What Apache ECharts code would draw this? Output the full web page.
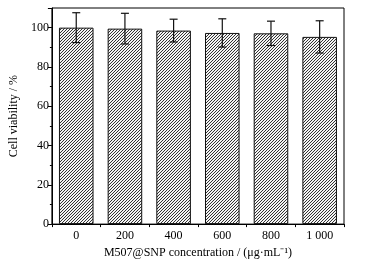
<!DOCTYPE html>
<html><head><meta charset="utf-8">
<script src="https://cdn.jsdelivr.net/npm/echarts@6/dist/echarts.min.js"></script>
<style>html,body{margin:0;padding:0;background:#fff}#c{width:368px;height:264px}</style>
</head><body><div id="c"></div>
<script>
var categories = ['0', '200', '400', '600', '800', '1 000'];
var viability = [100.0, 99.5, 98.5, 97.3, 97.1, 95.3];
var errors = [7.6, 7.8, 5.8, 7.2, 6.2, 8.2];
var yTicks = [0, 20, 40, 60, 80, 100];

function makePattern() {
  var n = 3;
  var c = document.createElement('canvas');
  c.width = n; c.height = n;
  var g = c.getContext('2d');
  g.fillStyle = '#f4f4f4'; g.fillRect(0, 0, n, n);
  g.strokeStyle = '#333'; g.lineWidth = 1;
  g.beginPath();
  g.moveTo(-1, n + 1); g.lineTo(n + 1, -1);
  g.moveTo(-1, 1); g.lineTo(1, -1);
  g.moveTo(n - 1, n + 1); g.lineTo(n + 1, n - 1);
  g.stroke();
  return c;
}

var font = 'Liberation Serif';
var chart = echarts.init(document.getElementById('c'), null, {renderer: 'canvas'});
var errData = viability.map(function (v, i) { return [i, v - errors[i], v + errors[i]]; });

chart.setOption({
  animation: false,
  grid: {left: 49, right: 24, top: 8, bottom: 39, show: true, borderColor: '#000', borderWidth: 1, backgroundColor: 'transparent'},
  xAxis: {
    type: 'category', data: categories,
    name: 'M507@SNP concentration / (μg·mL⁻¹)', nameLocation: 'middle', nameGap: 22,
    nameTextStyle: {fontFamily: font, fontSize: 12, color: '#000'},
    axisLine: {lineStyle: {color: '#000', width: 1}},
    axisTick: {show: true, inside: false, length: 3, lineStyle: {color: '#000'}},
    axisLabel: {fontFamily: font, fontSize: 12, color: '#000', margin: 6}
  },
  yAxis: {
    type: 'value', min: 0, max: 110, interval: 20,
    name: 'Cell viability / %', nameLocation: 'middle', nameGap: 27,
    nameTextStyle: {fontFamily: font, fontSize: 12, color: '#000'},
    axisLine: {show: true, lineStyle: {color: '#000', width: 1}},
    axisTick: {show: true, inside: false, length: 4, lineStyle: {color: '#000'}},
    minorTick: {show: true, splitNumber: 2, length: 2, lineStyle: {color: '#000'}},
    splitLine: {show: false},
    axisLabel: {fontFamily: font, fontSize: 12, color: '#000', margin: 3,
      formatter: function (v) { return yTicks.indexOf(v) >= 0 ? String(v) : ''; }}
  },
  series: [{
    type: 'bar', data: viability, barWidth: '71%',
    itemStyle: {color: {image: makePattern(), repeat: 'repeat'}, borderColor: '#111', borderWidth: 1}
  }, {
    type: 'custom', data: errData,
    renderItem: function (params, api) {
      var x = api.value(0);
      var lo = api.coord([x, api.value(1)]);
      var hi = api.coord([x, api.value(2)]);
      var w = 4;
      var st = {stroke: '#111', lineWidth: 1.2};
      return {type: 'group', children: [
        {type: 'line', shape: {x1: lo[0], y1: lo[1], x2: hi[0], y2: hi[1]}, style: st},
        {type: 'line', shape: {x1: lo[0] - w, y1: lo[1], x2: lo[0] + w, y2: lo[1]}, style: st},
        {type: 'line', shape: {x1: hi[0] - w, y1: hi[1], x2: hi[0] + w, y2: hi[1]}, style: st}
      ]};
    },
    z: 10
  }]
});
</script></body></html>
